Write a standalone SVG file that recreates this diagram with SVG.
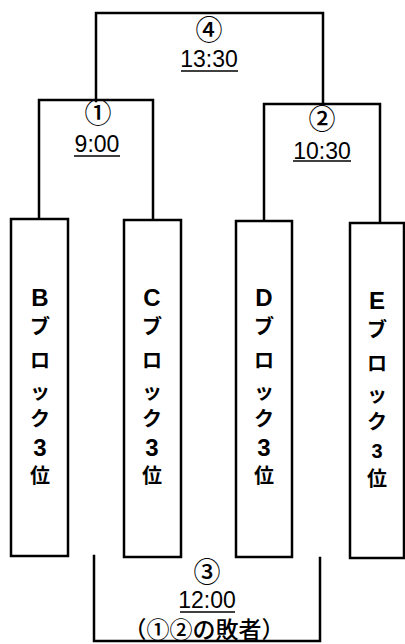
<svg xmlns="http://www.w3.org/2000/svg" width="405" height="644" viewBox="0 0 405 644">
<style>
.ln{fill:none;stroke:#000;stroke-width:2.5;stroke-linecap:square}
.box{fill:#fff;stroke:#000;stroke-width:2.5}
.ul{stroke:#000;stroke-width:1.6}
.t{font-family:"Liberation Sans","Noto Sans CJK JP",sans-serif;font-size:23px;text-anchor:middle;fill:#000}
.c{font-family:"Noto Sans CJK JP",sans-serif;font-size:27px;font-weight:500;text-anchor:middle;fill:#000}
.v{font-family:"Noto Sans CJK JP",sans-serif;font-size:20px;font-weight:bold;text-anchor:middle;fill:#000}
.vl{font-family:"Liberation Sans",sans-serif;font-size:24px;font-weight:bold}
</style>
<rect width="405" height="644" fill="#fff"/>
<g id="connectors">
<polyline class="ln" points="96,101 96,13 323,13 323,104"/>
<polyline class="ln" points="39,219 39,100 153,100 153,220"/>
<polyline class="ln" points="264,221 264,104 380,104 380,223"/>
<polyline class="ln" points="94,556 94,641 320,641 320,558"/>
</g>
<g id="boxB">
<rect class="box" x="11" y="219" width="57" height="337"/>
<text class="v"><tspan class="vl" x="40" y="306">B</tspan><tspan x="40" y="334">ブ</tspan><tspan x="40" y="368">ロ</tspan><tspan x="40" y="399">ッ</tspan><tspan x="40" y="426">ク</tspan><tspan class="vl" x="40" y="456">3</tspan><tspan x="40" y="483">位</tspan></text>
</g>
<g id="boxC">
<rect class="box" x="124" y="220" width="57" height="337"/>
<text class="v"><tspan class="vl" x="152" y="306">C</tspan><tspan x="152" y="334">ブ</tspan><tspan x="152" y="368">ロ</tspan><tspan x="152" y="399">ッ</tspan><tspan x="152" y="426">ク</tspan><tspan class="vl" x="152" y="456">3</tspan><tspan x="152" y="483">位</tspan></text>
</g>
<g id="boxD">
<rect class="box" x="236" y="221" width="56" height="336"/>
<text class="v"><tspan class="vl" x="264" y="306">D</tspan><tspan x="264" y="334">ブ</tspan><tspan x="264" y="368">ロ</tspan><tspan x="264" y="399">ッ</tspan><tspan x="264" y="426">ク</tspan><tspan class="vl" x="264" y="456">3</tspan><tspan x="264" y="483">位</tspan></text>
</g>
<g id="boxE">
<rect class="box" x="350" y="223" width="54" height="335"/>
<text class="v"><tspan class="vl" x="377" y="309">E</tspan><tspan x="377" y="337">ブ</tspan><tspan x="377" y="371">ロ</tspan><tspan x="377" y="402">ッ</tspan><tspan x="377" y="429">ク</tspan><tspan class="vl" x="377" y="458" style="font-size:20px">3</tspan><tspan x="377" y="486">位</tspan></text>
</g>
<g id="match4">
<text class="c" x="209" y="40">④</text>
<text class="t" x="209" y="67">13:30</text>
<line class="ul" x1="181" y1="71" x2="238" y2="71"/>
</g>
<g id="match1">
<text class="c" x="98" y="123">①</text>
<text class="t" x="97" y="152">9:00</text>
<line class="ul" x1="74" y1="156" x2="120" y2="156"/>
</g>
<g id="match2">
<text class="c" x="322" y="129">②</text>
<text class="t" x="322" y="159">10:30</text>
<line class="ul" x1="293" y1="161" x2="351" y2="161"/>
</g>
<g id="match3">
<text class="c" x="207" y="582">③</text>
<text class="t" x="207" y="608">12:00</text>
<line class="ul" x1="180" y1="612" x2="235" y2="612"/>
<text class="c" x="204" y="638" style="font-size:23px">（①②の敗者）</text>
</g>
</svg>
